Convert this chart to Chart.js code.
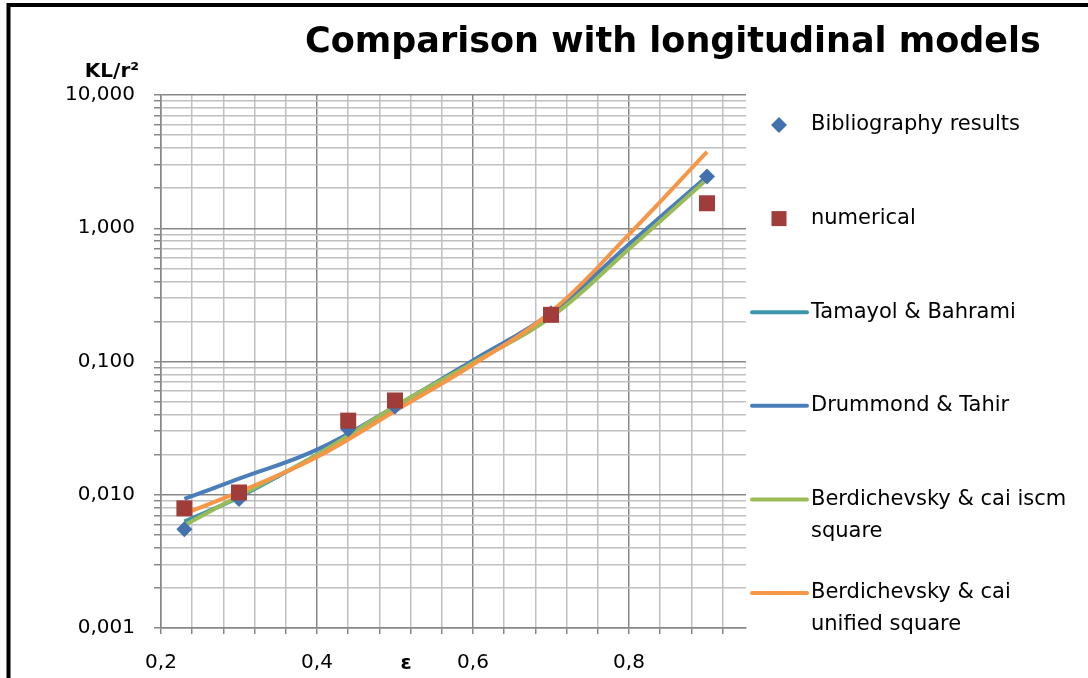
<!DOCTYPE html>
<html>
<head>
<meta charset="utf-8">
<script src="https://cdn.jsdelivr.net/npm/chart.js@4/dist/chart.umd.min.js"></script>
<style>
html, body { margin: 0; padding: 0; background: #fff; }
#wrap { width: 1088px; height: 678px; position: relative; }
</style>
</head>
<body>
<div id="wrap"><canvas id="chart"></canvas></div>
<script>
var epsPoints = [0.23, 0.30, 0.44, 0.50, 0.70, 0.90];
var bibliography = [0.0055, 0.0093, 0.031, 0.046, 0.230, 2.45];
var numerical = [0.0079, 0.0104, 0.036, 0.051, 0.224, 1.54];

// model curves
var epsModels = [0.23, 0.30, 0.40, 0.50, 0.60, 0.70, 0.80, 0.90];
var tamayol = [0.0063, 0.0096, 0.0200, 0.0455, 0.100, 0.222, 0.72, 2.38];
var drummond = [0.0093, 0.0132, 0.0218, 0.0460, 0.102, 0.232, 0.76, 2.45];
var berdIscm = [0.0059, 0.0098, 0.0200, 0.0460, 0.098, 0.215, 0.70, 2.33];
var berdUnified = [0.0072, 0.0105, 0.0192, 0.0425, 0.095, 0.236, 0.90, 3.74];

// axis ticks
var xGridTicks = [0.2, 0.24, 0.28, 0.32, 0.36, 0.4, 0.44, 0.48, 0.52, 0.56, 0.6, 0.64, 0.68, 0.72, 0.76, 0.8, 0.84, 0.88, 0.92];
var xLabelTicks = [0.2, 0.4, 0.6, 0.8];
var yDecades = [0.001, 0.01, 0.1, 1, 10];
var yMinorSteps = [1, 2, 3, 4, 5, 6, 7, 8, 9];

var FONT = "'DejaVu Sans', sans-serif";
var MAJOR = '#878787', MINOR = '#c0c0c0';

function pts(xs, ys) {
    return xs.map(function (x, i) { return { x: x, y: ys[i] }; });
}
function isDecade(v) {
    var l = Math.log10(v);
    return Math.abs(l - Math.round(l)) < 1e-6;
}
function isXLabel(v) {
    return xLabelTicks.some(function (t) { return Math.abs(t - v) < 1e-6; });
}

var colors = {
    bib: '#4271ad',
    num: '#a03d3a',
    tam: '#3c95ab',
    dru: '#4a7ebb',
    iscm: '#9bbb59',
    uni: '#f79646'
};

var legendItems = [
    { text: 'Bibliography results', kind: 'diamond', color: colors.bib },
    { text: 'numerical', kind: 'square', color: colors.num },
    { text: 'Tamayol & Bahrami', kind: 'line', color: colors.tam },
    { text: 'Drummond & Tahir', kind: 'line', color: colors.dru },
    { text: 'Berdichevsky & cai iscm square', kind: 'line', color: colors.iscm },
    { text: 'Berdichevsky & cai unified square', kind: 'line', color: colors.uni }
];

function wrap(ctx, text, maxW) {
    var words = text.split(' '), lines = [], cur = '';
    words.forEach(function (w) {
        var test = cur ? cur + ' ' + w : w;
        if (ctx.measureText(test).width > maxW && cur) { lines.push(cur); cur = w; }
        else cur = test;
    });
    lines.push(cur);
    return lines;
}

var decorations = {
    id: 'decorations',
    afterDraw: function (chart) {
        var ctx = chart.ctx;
        ctx.save();
        // frame
        ctx.strokeStyle = '#000';
        ctx.lineWidth = 4;
        ctx.beginPath();
        ctx.moveTo(8.5, 678);
        ctx.lineTo(8.5, 5);
        ctx.lineTo(1088, 5);
        ctx.stroke();

        ctx.fillStyle = '#000';
        ctx.textBaseline = 'middle';
        // title
        ctx.font = 'bold 35px ' + FONT;
        ctx.textAlign = 'center';
        ctx.fillText('Comparison with longitudinal models', 673, 43);
        // axis titles
        ctx.font = 'bold 20px ' + FONT;
        ctx.textAlign = 'right';
        ctx.fillText('KL/r\u00b2', 139, 72);
        ctx.textAlign = 'center';
        ctx.fillText('\u03b5', 406, 664);

        // legend
        ctx.font = '21px ' + FONT;
        ctx.textAlign = 'left';
        var y = 125;
        legendItems.forEach(function (it) {
            ctx.fillStyle = it.color;
            ctx.strokeStyle = it.color;
            if (it.kind === 'diamond') {
                ctx.beginPath();
                ctx.moveTo(779, y - 8); ctx.lineTo(787, y); ctx.lineTo(779, y + 8); ctx.lineTo(771, y);
                ctx.closePath(); ctx.fill();
            } else if (it.kind === 'square') {
                ctx.fillRect(771.5, y - 7.5, 15, 15);
            } else {
                ctx.lineWidth = 4;
                ctx.lineCap = 'round';
                ctx.beginPath(); ctx.moveTo(752, y); ctx.lineTo(807, y); ctx.stroke();
            }
            ctx.fillStyle = '#000';
            var lines = wrap(ctx, it.text, 266);
            lines.forEach(function (ln, i) { ctx.fillText(ln, 811, y + i * 32); });
            y += 93.6;
        });
        ctx.restore();
    }
};

var lineDs = function (label, data, color, order) {
    return {
        label: label, data: data, showLine: true, borderColor: color, backgroundColor: color,
        borderWidth: 4, pointRadius: 0, tension: 0.4, order: order
    };
};

new Chart(document.getElementById('chart'), {
    type: 'scatter',
    data: {
        datasets: [
            { label: 'numerical', data: pts(epsPoints, numerical), pointStyle: 'rect', pointRadius: 11.3,
              backgroundColor: colors.num, borderColor: colors.num, borderWidth: 0, order: 0 },
            { label: 'Bibliography results', data: pts(epsPoints, bibliography), pointStyle: 'rectRot', pointRadius: 8,
              backgroundColor: colors.bib, borderColor: colors.bib, borderWidth: 0, order: 1 },
            lineDs('Berdichevsky & cai unified square', pts(epsModels, berdUnified), colors.uni, 2),
            lineDs('Berdichevsky & cai iscm square', pts(epsModels, berdIscm), colors.iscm, 3),
            lineDs('Drummond & Tahir', pts(epsModels, drummond), colors.dru, 4),
            lineDs('Tamayol & Bahrami', pts(epsModels, tamayol), colors.tam, 5)
        ]
    },
    options: {
        responsive: true,
        maintainAspectRatio: false,
        animation: false,
        layout: { padding: { top: 95, right: 342, bottom: 0, left: 0 } },
        plugins: { legend: { display: false }, tooltip: { enabled: false }, title: { display: false } },
        scales: {
            x: {
                type: 'linear', min: 0.2, max: 0.95,
                afterBuildTicks: function (s) { s.ticks = xGridTicks.map(function (v) { return { value: v }; }); },
                afterFit: function (s) { s.height = 50; },
                ticks: {
                    autoSkip: false, maxRotation: 0, padding: 17, color: '#000',
                    font: { family: FONT, size: 20 },
                    callback: function (v) { return isXLabel(v) ? v.toFixed(1).replace('.', ',') : ''; }
                },
                grid: {
                    lineWidth: 1.5, tickLength: 6, tickColor: MAJOR,
                    color: function (c) { return c.tick && isXLabel(c.tick.value) ? MAJOR : MINOR; }
                },
                border: { color: MAJOR, width: 1.5 }
            },
            y: {
                type: 'logarithmic', min: 0.001, max: 10,
                afterBuildTicks: function (s) {
                    var t = [];
                    yDecades.forEach(function (d, i) {
                        yMinorSteps.forEach(function (k) {
                            if (i < yDecades.length - 1 || k === 1) t.push({ value: d * k, major: k === 1 });
                        });
                    });
                    s.ticks = t;
                },
                afterFit: function (s) { s.width = 161; },
                ticks: {
                    autoSkip: false, padding: 19, color: '#000',
                    font: { family: FONT, size: 20 },
                    callback: function (v) { return isDecade(v) ? v.toFixed(3).replace('.', ',') : ''; }
                },
                grid: {
                    lineWidth: 1.5, tickLength: 7, tickColor: MAJOR,
                    color: function (c) { return c.tick && isDecade(c.tick.value) ? MAJOR : MINOR; }
                },
                border: { color: MAJOR, width: 1.5 }
            }
        }
    },
    plugins: [decorations]
});
</script>
</body>
</html>
